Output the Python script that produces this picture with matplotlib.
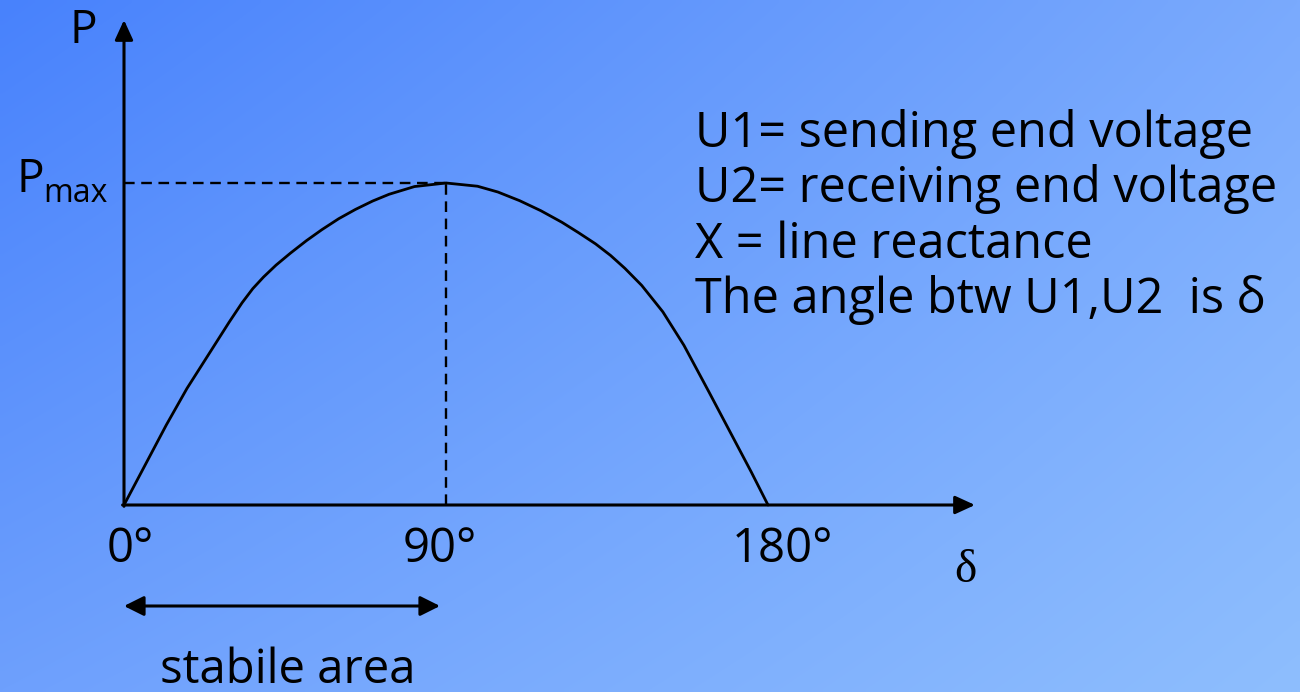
import numpy as np
import matplotlib
matplotlib.use("Agg")
import matplotlib.pyplot as plt

# P-δ curve (degrees, fraction of Pmax)
delta_deg = [0, 5.9, 11.8, 17.6, 23.5, 29.4, 33.0, 36.0, 39.0, 42.5, 46.5, 51.0, 55.3, 60.0, 64.7,
             69.5, 74.1, 81.2, 90.0, 98.8, 104.5, 110.6, 116.5, 122.4, 127.0, 131.8, 136.0, 140.0,
             144.7, 150.6, 156.5, 163.5, 169.4, 175.3, 180.0]
p_rel = [0, 0.124, 0.248, 0.362, 0.465, 0.568, 0.628, 0.672, 0.708, 0.745, 0.782, 0.821, 0.855,
         0.889, 0.918, 0.944, 0.965, 0.989, 1.0, 0.990, 0.972, 0.945, 0.914, 0.878, 0.846, 0.811,
         0.775, 0.735, 0.682, 0.600, 0.496, 0.351, 0.227, 0.103, 0]

tick_pos = [0, 90, 180]
tick_labels = ["0°", "90°", "180°"]
legend_lines = [
    "U1= sending end voltage",
    "U2= receiving end voltage",
    "X = line reactance",
    "The angle btw U1,U2  is δ",
]

FONT = ["Open Sans", "DejaVu Sans"]
W, H = 1300, 692
# pixel <-> data mapping (origin at px 124/505, 180° at px 768, Pmax at py 183)
PX_DEG = (768 - 124) / 180.0
PX_P = 505 - 183


def X(px):
    return (px - 124) / PX_DEG


def Y(py):
    return (505 - py) / PX_P


fig = plt.figure(figsize=(W / 100, H / 100), dpi=100)
ax = fig.add_axes([0, 0, 1, 1])
ax.set_xlim(X(0), X(W))
ax.set_ylim(Y(H), Y(0))
ax.axis("off")

# background gradient (bilinear between corner colours)
tl = np.array([72, 130, 252]) / 255
tr = np.array([122, 170, 253]) / 255
bl = np.array([110, 160, 253]) / 255
br = np.array([142, 190, 254]) / 255
u = np.linspace(0, 1, 260)[None, :, None]
v = np.linspace(0, 1, 140)[:, None, None]
grad = (tl * (1 - u) * (1 - v) + tr * u * (1 - v) + bl * (1 - u) * v + br * u * v)
ax.imshow(grad, extent=[X(0), X(W), Y(H), Y(0)], aspect="auto", zorder=0,
          interpolation="bilinear")

arrow = dict(arrowstyle="-|>,head_length=12,head_width=5.5", mutation_scale=1,
             lw=2.2, color="black", shrinkA=0, shrinkB=0)
ax.annotate("", xy=(0, Y(20)), xytext=(0, -0.004), arrowprops=arrow, zorder=3)
ax.annotate("", xy=(X(975), 0), xytext=(-0.4, 0), arrowprops=arrow, zorder=3)

# dashed guides at 90° / Pmax
peak = delta_deg[p_rel.index(max(p_rel))]
ax.plot([0, peak], [1, 1], color="black", lw=1.7, ls=(0, (4.5, 2.8)), zorder=2)
ax.plot([peak, peak], [0, 1], color="black", lw=1.7, ls=(0, (4.5, 2.8)), zorder=2)

ax.plot(delta_deg, p_rel, color="black", lw=2.0, zorder=4,
        solid_joinstyle="round", solid_capstyle="round")

ax.text(X(83), Y(31), "P", fontsize=33, family=FONT, ha="center", va="center")
ax.text(X(16), Y(192), "P", fontsize=33, family=FONT, ha="left", va="baseline")
ax.text(X(43), Y(202), "max", fontsize=23, family=FONT, ha="left", va="baseline")

tick_x_px = [130, 440, 783]
for d, lab, px in zip(tick_pos, tick_labels, tick_x_px):
    ax.text(X(px), Y(562), lab, fontsize=34, family=FONT, ha="center", va="baseline")

ax.text(X(965), Y(582), "δ", fontsize=34, family=["Liberation Serif", "DejaVu Serif"],
        ha="center", va="baseline")

dbl = dict(arrowstyle="<|-|>,head_length=12,head_width=6", mutation_scale=1,
           lw=2.2, color="black", shrinkA=0, shrinkB=0)
ax.annotate("", xy=(X(440), Y(606)), xytext=(0, Y(606)), arrowprops=dbl)
ax.text(X(288), Y(683), "stabile area", fontsize=34, family=FONT, ha="center", va="baseline")

for line, base in zip(legend_lines, [147, 202, 258, 313]):
    ax.text(X(695), Y(base), line, fontsize=35, family=FONT, ha="left", va="baseline")

fig.savefig("out.png", dpi=100)
